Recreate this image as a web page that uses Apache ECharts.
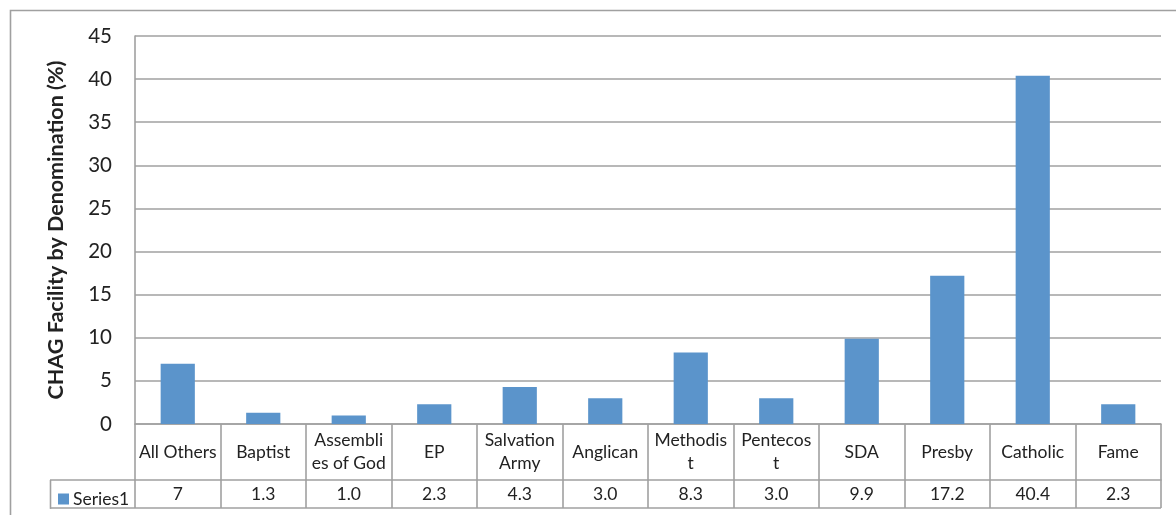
<!DOCTYPE html>
<html><head><meta charset="utf-8">
<script src="https://cdn.jsdelivr.net/npm/echarts@6/dist/echarts.min.js"></script>
<style>html,body{margin:0;padding:0;background:#fff}#c{width:1176px;height:515px}</style>
</head><body><div id="c"></div>
<script>
const categories = ['All Others','Baptist','Assemblies of God','EP','Salvation Army','Anglican','Methodist','Pentecost','SDA','Presby','Catholic','Fame'];
const categoryLabels = ['All Others','Baptist','Assembli\nes of God','EP','Salvation\nArmy','Anglican','Methodis\nt','Pentecos\nt','SDA','Presby','Catholic','Fame'];
const values = [7, 1.3, 1.0, 2.3, 4.3, 3.0, 8.3, 3.0, 9.9, 17.2, 40.4, 2.3];
const tableLabels = ['7','1.3','1.0','2.3','4.3','3.0','8.3','3.0','9.9','17.2','40.4','2.3'];
const seriesName = 'Series1';
const yTicks = [0,5,10,15,20,25,30,35,40,45];

const FONT = 'Lato';
const LINE = '#a0a0a0';
const LW = 1.6;
const chart = echarts.init(document.getElementById('c'));
chart.setOption({
  animation: false,
  textStyle: {fontFamily: FONT},
  legend: {
    data: [seriesName], left: 53, top: 485, icon: 'rect', itemWidth: 11, itemHeight: 11, itemGap: 4,
    textStyle: {fontSize: 17.5, color: '#222', fontFamily: FONT, padding: [0,0,0,-1]}
  },
  grid: {left: 135, right: 15, top: 36, bottom: 91},
  xAxis: [{
    type: 'category', data: categories, position: 'bottom',
    axisLine: {show: true, lineStyle: {color: LINE, width: LW}},
    axisTick: {show: true, length: 56, interval: 0, lineStyle: {color: LINE, width: LW}},
    axisLabel: {interval: 0, margin: 28, verticalAlign: 'middle', fontSize: 17.5, lineHeight: 23, color: '#222', fontFamily: FONT,
      formatter: (v, i) => categoryLabels[i]}
  }, {
    type: 'category', data: categories, position: 'bottom', offset: 56,
    axisLine: {show: true, lineStyle: {color: LINE, width: LW}},
    axisTick: {show: true, length: 28, interval: 0, lineStyle: {color: LINE, width: LW}},
    axisLabel: {interval: 0, margin: 14, verticalAlign: 'middle', fontSize: 17.5, color: '#222', fontFamily: FONT,
      formatter: (v, i) => tableLabels[i]}
  }],
  yAxis: {
    type: 'value', min: 0, max: 45, interval: 5,
    name: 'CHAG Facility by Denomination (%)', nameLocation: 'middle', nameGap: 68, nameRotate: 90,
    nameTextStyle: {fontSize: 21.5, fontWeight: 'bold', color: '#222', fontFamily: FONT},
    axisLine: {show: true, lineStyle: {color: LINE, width: LW}},
    axisTick: {show: false},
    splitLine: {lineStyle: {color: LINE, width: LW}},
    axisLabel: {fontSize: 20.5, color: '#222', margin: 23, fontFamily: FONT,
      formatter: v => yTicks.includes(v) ? String(v) : ''}
  },
  series: [{
    name: seriesName, type: 'bar', data: values, xAxisIndex: 0,
    barCategoryGap: '60%',
    itemStyle: {color: '#5b94cb'}
  }],
  graphic: [
    {type: 'rect', shape: {x: 10.5, y: 10.5, width: 1200, height: 600}, style: {fill: 'none', stroke: LINE, lineWidth: 1.6}, silent: true},
    {type: 'line', shape: {x1: 50, y1: 480, x2: 135, y2: 480}, style: {stroke: LINE, lineWidth: LW}},
    {type: 'line', shape: {x1: 50, y1: 508, x2: 1161, y2: 508}, style: {stroke: LINE, lineWidth: LW}},
    {type: 'line', shape: {x1: 50.5, y1: 480, x2: 50.5, y2: 508.8}, style: {stroke: LINE, lineWidth: LW}}
  ]
});
</script></body></html>
